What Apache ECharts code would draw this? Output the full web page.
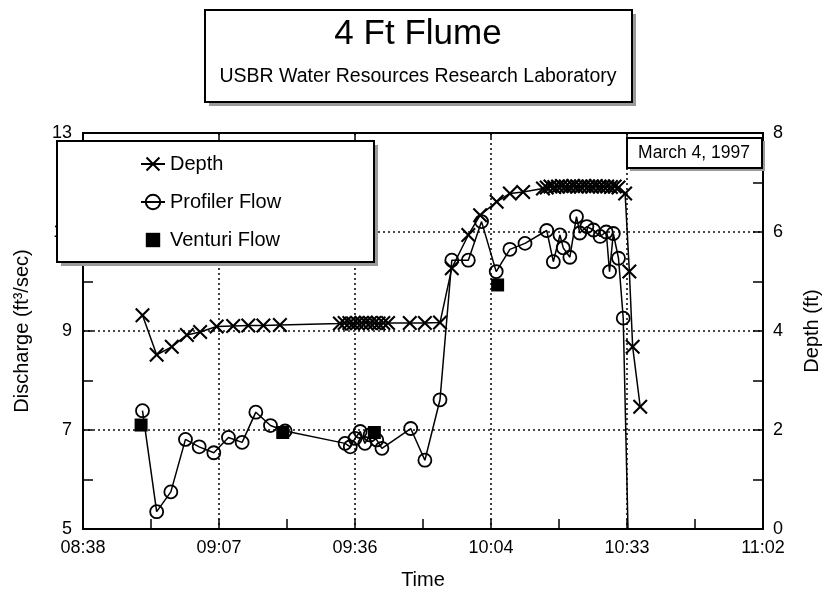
<!DOCTYPE html>
<html>
<head>
<meta charset="utf-8">
<script src="https://cdn.jsdelivr.net/npm/echarts@6/dist/echarts.min.js"></script>
<style>
  html, body { margin: 0; padding: 0; background: #fff; }
  #chart { width: 838px; height: 601px; }
</style>
</head>
<body>
<div id="chart"></div>
<script>
// times are minutes after midnight (Excel day fraction 0.36 .. 0.46)
const depthTime = [531.0, 534.0, 537.2, 540.4, 543.2, 546.7, 550.2, 553.4, 556.6, 560.1,
    572.8, 573.8, 574.8, 575.6, 576.5, 577.4, 578.3, 579.2, 580.1, 581.0, 582.0, 583.0,
    587.6, 590.8, 594.0, 596.5, 600.0, 602.5, 606.0, 608.8, 611.6,
    615.8, 616.6, 617.4, 618.2, 619.0, 619.8, 620.6, 621.4, 622.2, 623.0, 623.8, 624.6,
    625.4, 626.2, 627.0, 627.8, 628.6, 629.4, 630.2, 631.0, 631.8,
    633.2, 634.1, 634.8, 636.4];
const depthValue = [4.32, 3.52, 3.68, 3.92, 3.98, 4.09, 4.10, 4.11, 4.11, 4.12,
    4.15, 4.16, 4.16, 4.15, 4.16, 4.16, 4.17, 4.16, 4.16, 4.15, 4.16, 4.16,
    4.16, 4.16, 4.17, 5.27, 5.94, 6.34, 6.61, 6.78, 6.81,
    6.88, 6.90, 6.92, 6.91, 6.92, 6.93, 6.92, 6.92, 6.93, 6.92, 6.92, 6.93,
    6.92, 6.92, 6.93, 6.92, 6.92, 6.92, 6.91, 6.92, 6.90,
    6.78, 5.20, 3.68, 2.47];

const profilerTime = [531.0, 534.0, 537.0, 540.1, 543.0, 546.1, 549.2, 552.1, 555.0, 558.1, 561.2,
    573.9, 575.0, 576.0, 577.1, 578.1, 579.2, 580.6, 581.7, 587.8, 590.8, 594.0,
    596.5, 600.0, 602.8, 605.9, 608.8, 612.0, 616.6, 618.0, 619.4, 620.1, 621.5,
    622.9, 623.6, 625.1, 626.5, 627.9, 629.2, 629.9, 630.7, 631.8, 632.8, 635.0];
const profilerValue = [7.39, 5.35, 5.75, 6.81, 6.66, 6.54, 6.85, 6.75, 7.36, 7.09, 6.98,
    6.73, 6.66, 6.83, 6.97, 6.73, 6.90, 6.80, 6.63, 7.03, 6.39, 7.61,
    10.43, 10.43, 11.21, 10.20, 10.65, 10.77, 11.03, 10.40, 10.94, 10.68, 10.49,
    11.31, 10.98, 11.11, 11.04, 10.91, 11.00, 10.20, 10.97, 10.47, 9.26, 0];

const venturiTime = [530.7, 560.7, 580.1, 606.2];
const venturiValue = [7.10, 6.95, 6.95, 9.93];

const font = 'Liberation Sans, Arial, sans-serif';
const crossPath = 'path://M0,1L1,0L5,4L9,0L10,1L6,5L10,9L9,10L5,6L1,10L0,9L4,5Z';

function zip(xs, ys) {
    return xs.map((x, i) => [x, ys[i]]);
}

function fmtTime(v) {
    const h = Math.floor(v / 60 + 1e-9);
    const m = Math.floor(v - h * 60 + 1e-6);
    return String(h).padStart(2, '0') + ':' + String(m).padStart(2, '0');
}

const gridLine = { show: true, lineStyle: { color: '#111', type: [2, 3], width: 1.6 } };

const chart = echarts.init(document.getElementById('chart'));
chart.setOption({
    animation: false,
    backgroundColor: '#fff',
    grid: { left: 83, right: 75, top: 133, bottom: 72, show: true, borderColor: '#000', borderWidth: 2 },
    graphic: [
        // title box
        { type: 'rect', shape: { x: 209, y: 14, width: 427, height: 92 }, style: { fill: '#9a9a9a' }, z: 10 },
        { type: 'rect', shape: { x: 205, y: 10, width: 427, height: 92 }, style: { fill: '#fff', stroke: '#000', lineWidth: 2 }, z: 11 },
        { type: 'text', x: 418, y: 34, style: { text: '4 Ft Flume', font: '35px ' + font, fill: '#000', align: 'center', verticalAlign: 'middle' }, z: 12 },
        { type: 'text', x: 418, y: 77, style: { text: 'USBR Water Resources Research Laboratory', font: '19.5px ' + font, fill: '#000', align: 'center', verticalAlign: 'middle' }, z: 12 },
        // date box
        { type: 'rect', shape: { x: 630, y: 141, width: 135, height: 30 }, style: { fill: '#9a9a9a' }, z: 10 },
        { type: 'rect', shape: { x: 627, y: 138, width: 135, height: 30 }, style: { fill: '#fff', stroke: '#000', lineWidth: 2 }, z: 11 },
        { type: 'text', x: 694, y: 153, style: { text: 'March 4, 1997', font: '17.5px ' + font, fill: '#000', align: 'center', verticalAlign: 'middle' }, z: 12 },
        // legend box
        { type: 'rect', shape: { x: 61, y: 145, width: 317, height: 121 }, style: { fill: '#9a9a9a' }, z: 10 },
        { type: 'rect', shape: { x: 57, y: 141, width: 317, height: 121 }, style: { fill: '#fff', stroke: '#000', lineWidth: 2 }, z: 11 }
    ],
    legend: {
        left: 135, top: 149, orient: 'vertical', itemGap: 18, itemWidth: 24, itemHeight: 18,
        z: 20,
        textStyle: { fontFamily: font, fontSize: 20, color: '#000' },
        data: ['Depth', 'Profiler Flow', 'Venturi Flow']
    },
    xAxis: [{
        type: 'value', min: 518.4, max: 662.4, interval: 28.8,
        name: 'Time', nameLocation: 'middle', nameGap: 41,
        nameTextStyle: { fontFamily: font, fontSize: 20, color: '#000' },
        axisLine: { show: true, lineStyle: { color: '#000', width: 2 } },
        axisTick: { show: true, inside: true, length: 10, lineStyle: { color: '#000', width: 1.5 } },
        minorTick: { show: true, splitNumber: 2, length: 10, lineStyle: { color: '#000', width: 1.5 } },
        axisLabel: { formatter: fmtTime, fontFamily: font, fontSize: 18, color: '#000', margin: 10 },
        splitLine: gridLine
    }, {
        type: 'value', position: 'top', min: 518.4, max: 662.4, interval: 28.8,
        axisLine: { show: true, lineStyle: { color: '#000', width: 2 } },
        axisTick: { show: true, inside: true, length: 5, lineStyle: { color: '#000', width: 1.5 } },
        axisLabel: { show: false }, splitLine: { show: false }
    }],
    yAxis: [{
        type: 'value', min: 5, max: 13, interval: 2,
        name: 'Discharge (ft³/sec)', nameLocation: 'middle', nameGap: 51, nameRotate: 90,
        nameTextStyle: { fontFamily: font, fontSize: 20, color: '#000' },
        axisLine: { show: true, lineStyle: { color: '#000', width: 2 } },
        axisTick: { show: true, inside: true, length: 10, lineStyle: { color: '#000', width: 1.5 } },
        minorTick: { show: true, splitNumber: 2, length: 10, lineStyle: { color: '#000', width: 1.5 } },
        axisLabel: { fontFamily: font, fontSize: 18, color: '#000', margin: 11 },
        splitLine: gridLine
    }, {
        type: 'value', min: 0, max: 8, interval: 2, position: 'right',
        name: 'Depth (ft)', nameLocation: 'middle', nameGap: 39, nameRotate: 90,
        nameTextStyle: { fontFamily: font, fontSize: 20, color: '#000' },
        axisLine: { show: true, lineStyle: { color: '#000', width: 2 } },
        axisTick: { show: true, inside: true, length: 10, lineStyle: { color: '#000', width: 1.5 } },
        minorTick: { show: true, splitNumber: 2, length: 10, lineStyle: { color: '#000', width: 1.5 } },
        axisLabel: { fontFamily: font, fontSize: 18, color: '#000', margin: 10 },
        splitLine: { show: false }
    }],
    series: [{
        name: 'Depth', type: 'line', yAxisIndex: 1, z: 3,
        data: zip(depthTime, depthValue),
        symbol: crossPath, symbolSize: 15,
        itemStyle: { color: '#000' },
        lineStyle: { color: '#000', width: 1.5 }
    }, {
        name: 'Profiler Flow', type: 'line', yAxisIndex: 0, z: 3,
        data: zip(profilerTime, profilerValue),
        symbol: 'circle', symbolSize: 13,
        itemStyle: { color: 'rgba(0,0,0,0)', borderColor: '#000', borderWidth: 1.8 },
        lineStyle: { color: '#000', width: 1.5 }
    }, {
        name: 'Venturi Flow', type: 'line', yAxisIndex: 0, z: 4,
        data: zip(venturiTime, venturiValue),
        symbol: 'rect', symbolSize: 13,
        itemStyle: { color: '#000' },
        lineStyle: { color: '#000', width: 0 }
    }]
});
</script>
</body>
</html>
